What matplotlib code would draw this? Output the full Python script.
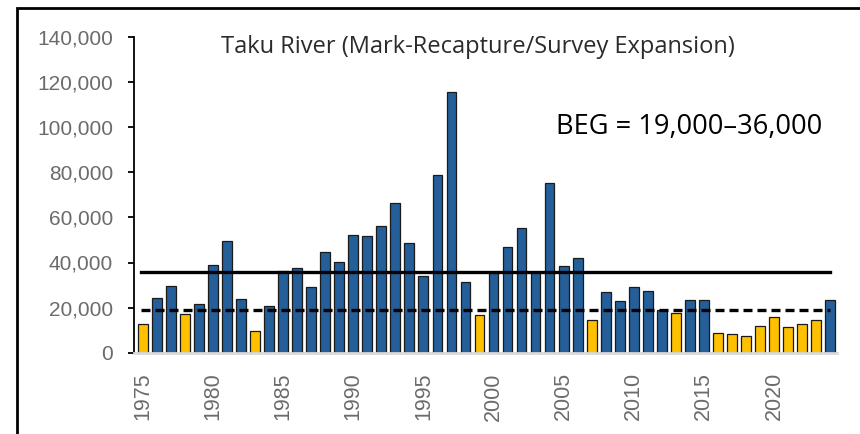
import numpy as np
import matplotlib
matplotlib.use("Agg")
import matplotlib.pyplot as plt
from matplotlib.patches import Rectangle

# escapement estimates, Taku River
years = list(range(1975, 2025))
escapement = [
    12600, 24400, 29600, 17200, 21800, 39000, 49500, 23700, 9600, 20600,
    36100, 37700, 29000, 44500, 40100, 52400, 51900, 56000, 66200, 48600,
    33900, 79000, 115400, 31300, 16800, 35400, 46800, 55300, 35700, 75200,
    38500, 42200, 14600, 26700, 22800, 29000, 27400, 19100, 17800, 23400,
    23400, 8900, 8400, 7400, 11700, 15700, 11400, 12900, 14500, 23400,
]
below_goal = [1975, 1978, 1983, 1999, 2007, 2013, 2016, 2017, 2018,
              2019, 2020, 2021, 2022, 2023]
beg_low = 19000
beg_high = 36000
tick_years = list(range(1975, 2025, 5))

BLUE = "#245f9a"
GOLD = "#ffc000"

fig = plt.figure(figsize=(8.6, 4.34), dpi=100)
W, H = 860, 434

# frame round the chart
fig.add_artist(Rectangle((17 / W, -0.1), 1.2, (H - 8) / H + 0.1,
                         transform=fig.transFigure, fill=False,
                         edgecolor="black", linewidth=2))

ax = fig.add_axes([134 / W, 81.3 / H, (837 - 134) / W, (352.7 - 37) / H])

x = np.arange(len(years))
colors = [GOLD if y in below_goal else BLUE for y in years]
ax.bar(x, escapement, width=0.7, color=colors, edgecolor="#1a1a1a",
       linewidth=0.9, zorder=2)

ax.plot([x[0] - 0.15, x[-1]], [beg_high, beg_high], color="black",
        linewidth=2.4, zorder=3)
ax.plot([x[0] - 0.15, x[-1]], [beg_low, beg_low], color="black",
        linewidth=2.4, dashes=(2.7, 1.5), zorder=3)

ax.set_xlim(-0.64, len(years) - 0.5)
ax.set_ylim(0, 140000)

ax.set_yticks(np.arange(0, 140001, 20000))
ax.set_yticklabels([f"{v:,}" for v in range(0, 140001, 20000)],
                   fontsize=15, color="#6b6b6b", family="Liberation Sans")
ax.set_xticks([years.index(y) for y in tick_years])
ax.set_xticklabels([str(y) for y in tick_years], rotation=90,
                   fontsize=15.5, color="#6b6b6b", family="Liberation Sans")
ax.tick_params(axis="y", length=4, width=1.3, pad=11, color="black")
ax.tick_params(axis="x", length=0, pad=14)

for s in ["top", "right"]:
    ax.spines[s].set_visible(False)
ax.spines["left"].set_linewidth(1.3)
ax.spines["bottom"].set_color("#d9d9d9")
ax.spines["bottom"].set_linewidth(2)

fig.text(478 / W, 1 - 47 / H, "Taku River (Mark-Recapture/Survey Expansion)",
         ha="center", va="center", fontsize=17, color="#2b2b2b",
         family="Open Sans")
fig.text(689 / W, 1 - 127 / H, "BEG = 19,000\u201336,000",
         ha="center", va="center", fontsize=19.6, color="black",
         family="Open Sans")

fig.savefig("out.png", dpi=100)
